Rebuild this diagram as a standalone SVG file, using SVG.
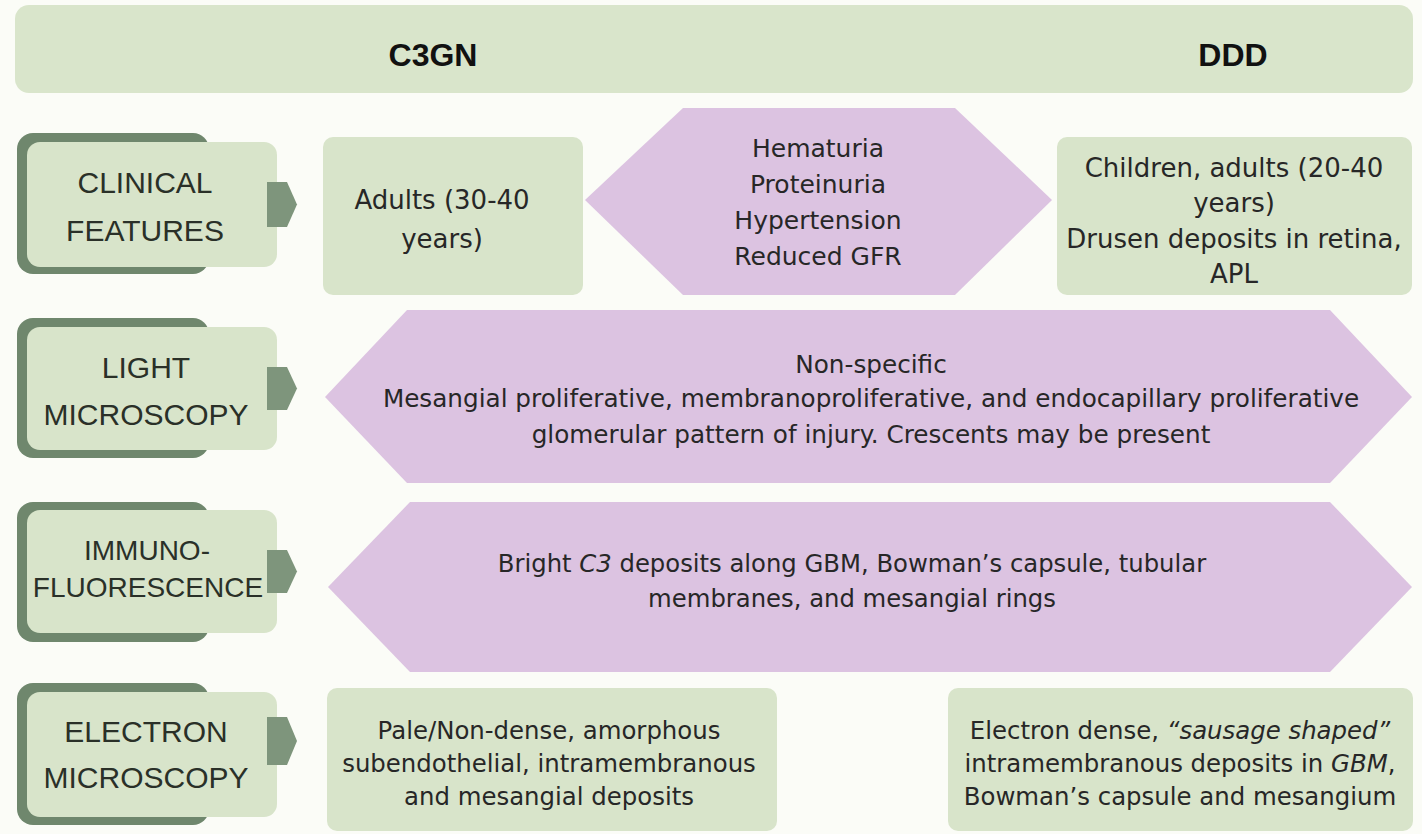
<svg xmlns="http://www.w3.org/2000/svg" width="1422" height="834" viewBox="0 0 1422 834">
<style>
.bg{fill:#fbfcf7}
.hdr{fill:#d9e5cb}
.shadow{fill:#6f876d}
.lbl{fill:#d8e4ca}
.tab{fill:#7e957c}
.box{fill:#d8e4ca}
.hex{fill:#dcc3e1}
.ht{font-family:"Liberation Sans",Arial,sans-serif;font-weight:bold;font-size:32px;fill:#111;text-anchor:middle}
.lt{font-family:"Liberation Sans",Arial,sans-serif;font-size:30px;fill:#2a3028;text-anchor:middle}
.bt{font-family:"DejaVu Sans",sans-serif;fill:#272727;text-anchor:middle}
.it{font-style:italic}
</style>
<rect class="bg" x="0" y="0" width="1422" height="834"/>

<g id="header">
<rect class="hdr" x="15" y="5" width="1398" height="88" rx="14"/>
<text class="ht" x="433" y="66">C3GN</text>
<text class="ht" x="1233" y="66">DDD</text>
</g>

<g id="label-clinical">
<rect class="shadow" x="17" y="133" width="192" height="141" rx="16"/>
<rect class="lbl" x="27" y="142" width="250" height="125" rx="13"/>
<text class="lt" x="145" y="193">CLINICAL</text>
<text class="lt" x="145" y="241">FEATURES</text>
</g>
<g id="label-light">
<rect class="shadow" x="17" y="318" width="192" height="140" rx="16"/>
<rect class="lbl" x="27" y="327" width="250" height="123" rx="13"/>
<text class="lt" x="146" y="378">LIGHT</text>
<text class="lt" x="146" y="425">MICROSCOPY</text>
</g>
<g id="label-if">
<rect class="shadow" x="17" y="502" width="192" height="140" rx="16"/>
<rect class="lbl" x="27" y="510" width="250" height="123" rx="13"/>
<text class="lt" x="147" y="560" style="font-size:28px">IMMUNO-</text>
<text class="lt" x="148" y="597" style="font-size:28px">FLUORESCENCE</text>
</g>
<g id="label-em">
<rect class="shadow" x="17" y="683" width="192" height="142" rx="16"/>
<rect class="lbl" x="27" y="692" width="250" height="125" rx="13"/>
<text class="lt" x="146" y="742">ELECTRON</text>
<text class="lt" x="146" y="788">MICROSCOPY</text>
</g>

<g id="connectors">
<polygon class="tab" points="267,182 287,182 297,204.5 287,227 267,227"/>
<polygon class="tab" points="267,367 287,367 297,388.5 287,410 267,410"/>
<polygon class="tab" points="267,550 287,550 297,571.5 287,593 267,593"/>
<polygon class="tab" points="267,717 287,717 297,741 287,765 267,765"/>
</g>

<g id="c3gn-clinical">
<rect class="box" x="323" y="137" width="260" height="158" rx="10"/>
<text class="bt" style="font-size:26px" x="442" y="209">Adults (30-40</text>
<text class="bt" style="font-size:26px" x="442" y="248">years)</text>
</g>

<g id="shared-clinical">
<polygon class="hex" points="585,200 683,108 955,108 1052,200 955,295 683,295"/>
<text class="bt" style="font-size:25px" x="818" y="157">Hematuria</text>
<text class="bt" style="font-size:25px" x="818" y="193">Proteinuria</text>
<text class="bt" style="font-size:25px" x="818" y="229">Hypertension</text>
<text class="bt" style="font-size:25px" x="818" y="265">Reduced GFR</text>
</g>

<g id="ddd-clinical">
<rect class="box" x="1057" y="137" width="355" height="158" rx="10"/>
<text class="bt" style="font-size:26px" x="1234" y="177">Children, adults (20-40</text>
<text class="bt" style="font-size:26px" x="1234" y="212">years)</text>
<text class="bt" style="font-size:26px" x="1234" y="248">Drusen deposits in retina,</text>
<text class="bt" style="font-size:26px" x="1234" y="283">APL</text>
</g>

<g id="shared-light">
<polygon class="hex" points="325,397 407,310 1330,310 1412,397 1330,483 407,483"/>
<text class="bt" style="font-size:24.7px" x="871" y="373">Non-specific</text>
<text class="bt" style="font-size:24.7px" x="871" y="407">Mesangial proliferative, membranoproliferative, and endocapillary proliferative</text>
<text class="bt" style="font-size:24.7px" x="871" y="443">glomerular pattern of injury. Crescents may be present</text>
</g>

<g id="shared-if">
<polygon class="hex" points="328,587 410,502 1330,502 1412,587 1330,672 410,672"/>
<text class="bt" style="font-size:24.3px" x="852" y="572">Bright <tspan class="it">C3</tspan> deposits along GBM, Bowman’s capsule, tubular</text>
<text class="bt" style="font-size:24.3px" x="852" y="607">membranes, and mesangial rings</text>
</g>

<g id="c3gn-em">
<rect class="box" x="327" y="688" width="450" height="143" rx="10"/>
<text class="bt" style="font-size:24.4px" x="549" y="739">Pale/Non-dense, amorphous</text>
<text class="bt" style="font-size:24.4px" x="549" y="772">subendothelial, intramembranous</text>
<text class="bt" style="font-size:24.4px" x="549" y="805">and mesangial deposits</text>
</g>

<g id="ddd-em">
<rect class="box" x="948" y="688" width="465" height="143" rx="10"/>
<text class="bt" style="font-size:24.4px" x="1180" y="739">Electron dense, <tspan class="it">“sausage shaped”</tspan></text>
<text class="bt" style="font-size:24.4px" x="1180" y="772">intramembranous deposits in <tspan class="it">GBM</tspan>,</text>
<text class="bt" style="font-size:24.4px" x="1180" y="805">Bowman’s capsule and mesangium</text>
</g>
</svg>
